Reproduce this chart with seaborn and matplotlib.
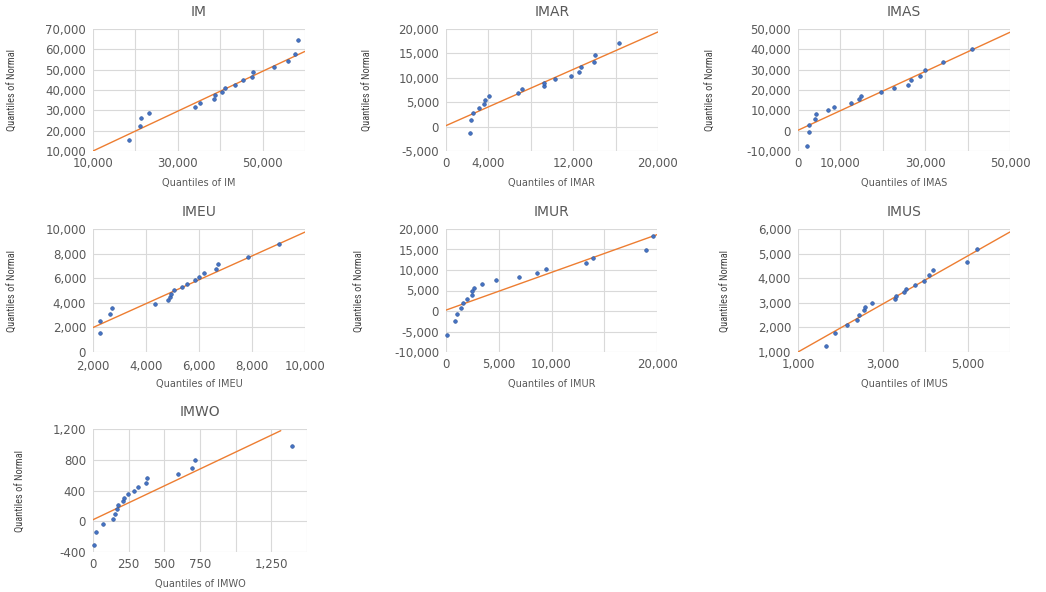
import matplotlib
matplotlib.use("Agg")
import matplotlib.pyplot as plt
import seaborn as sns
import numpy as np
import pandas as pd
from matplotlib import font_manager

# ---------------- data ----------------
im_x = [18500, 21000, 21300, 23300, 34100, 35300, 38600, 38800, 40400, 41200,
        43600, 45400, 47500, 47800, 52800, 55900, 57700, 58400]
im_y = [15400, 22200, 26100, 28900, 31400, 33500, 35500, 37300, 39100, 40900,
        42700, 44700, 46500, 48700, 51100, 54100, 57900, 64800]
im_line_x = [10000, 60000]
im_line_y = [10000, 59000]

imar_x = [2260, 2320, 2570, 3080, 3580, 3640, 4020, 6810, 7160, 9200, 9260,
          10330, 11800, 12500, 12690, 13970, 14100, 16300]
imar_y = [-1230, 1300, 2740, 3840, 4730, 5550, 6230, 6920, 7670, 8360, 8970,
          9730, 10400, 11230, 12120, 13220, 14660, 17190]
imar_line_x = [0, 20000]
imar_line_y = [200, 19400]

imas_x = [2130, 2520, 2520, 4020, 4170, 7170, 8500, 12600, 14490, 14960, 19530,
          22600, 25830, 26540, 28740, 29840, 34090, 41100]
imas_y = [-7370, -790, 2820, 5620, 8080, 10060, 11860, 13670, 15480, 17120, 18930,
          20740, 22550, 24690, 26990, 29780, 33560, 40140]
imas_line_x = [0, 50000]
imas_line_y = [200, 48400]

imeu_x = [2270, 2270, 2660, 2730, 4330, 4840, 4910, 4950, 5050, 5360, 5540,
          5860, 6000, 6170, 6640, 6730, 7850, 9030]
imeu_y = [1580, 2560, 3130, 3540, 3900, 4220, 4500, 4740, 5040, 5290, 5530,
          5830, 6100, 6430, 6760, 7190, 7740, 8770]
imeu_line_x = [2000, 10000]
imeu_line_y = [1990, 9750]

imur_x = [60, 850, 1040, 1460, 1650, 2030, 2440, 2500, 2630, 3390, 4750,
          6960, 8610, 9490, 13260, 13950, 18950, 19590]
imur_y = [-5910, -2560, -680, 710, 1860, 2920, 3900, 4800, 5700, 6600, 7500,
          8400, 9380, 10360, 11590, 12980, 14860, 18210]
imur_line_x = [0, 20000]
imur_line_y = [220, 18620]

imus_x = [1650, 1870, 2160, 2380, 2450, 2550, 2580, 2740, 3280, 3320, 3500,
          3540, 3760, 3970, 4080, 4190, 4980, 5230]
imus_y = [1230, 1790, 2090, 2320, 2510, 2690, 2840, 3000, 3140, 3290, 3430,
          3560, 3720, 3900, 4110, 4320, 4640, 5200]
imus_line_x = [1000, 6000]
imus_line_y = [1000, 5880]

imwo_x = [7, 24, 71, 142, 156, 165, 175, 208, 217, 245, 288, 316, 370, 377,
          597, 693, 712, 1392]
imwo_y = [-310, -139, -39, 35, 100, 157, 209, 257, 304, 352, 400, 448, 496, 557,
          617, 696, 796, 974]
imwo_line_x = [0, 1316]
imwo_line_y = [20, 1178]

names = ["IM", "IMAR", "IMAS", "IMEU", "IMUR", "IMUS", "IMWO"]

# axis ticks and whether each tick shows its label
im_xticks = [10000, 20000, 30000, 40000, 50000, 60000]
im_xshow = [1, 0, 1, 0, 1, 0]
im_yticks = [10000, 20000, 30000, 40000, 50000, 60000, 70000]

imar_xticks = [0, 4000, 8000, 12000, 16000, 20000]
imar_xshow = [1, 1, 0, 1, 0, 1]
imar_yticks = [-5000, 0, 5000, 10000, 15000, 20000]

imas_xticks = [0, 10000, 20000, 30000, 40000, 50000]
imas_xshow = [1, 1, 0, 1, 0, 1]
imas_yticks = [-10000, 0, 10000, 20000, 30000, 40000, 50000]

imeu_xticks = [2000, 4000, 6000, 8000, 10000]
imeu_xshow = [1, 1, 1, 1, 1]
imeu_yticks = [0, 2000, 4000, 6000, 8000, 10000]

imur_xticks = [0, 5000, 10000, 15000, 20000]
imur_xshow = [1, 1, 1, 0, 1]
imur_yticks = [-10000, -5000, 0, 5000, 10000, 15000, 20000]

imus_xticks = [1000, 2000, 3000, 4000, 5000, 6000]
imus_xshow = [1, 0, 1, 0, 1, 0]
imus_yticks = [1000, 2000, 3000, 4000, 5000, 6000]

imwo_xticks = [0, 250, 500, 750, 1000, 1250, 1500]
imwo_xshow = [1, 1, 1, 1, 0, 1, 0]
imwo_yticks = [-400, 0, 400, 800, 1200]

# ---------------- style ----------------
sns.set_theme(style="white")
plt.rcParams["font.family"] = ["DejaVu Sans"]

avail = {f.name for f in font_manager.fontManager.ttflist}
narrow = None
for cand in ["Liberation Sans Narrow", "Arial Narrow", "DejaVu Sans Condensed",
             "Roboto Condensed", "Open Sans Condensed"]:
    if cand in avail:
        narrow = cand
        break

BLUE = "#4472C4"
ORANGE = "#ED7D31"
GRID = "#D9D9D9"
TXT = "#595959"

W, H = 1046, 592
fig = plt.figure(figsize=(W / 100, H / 100), dpi=100)

# layout: left px, top px, width px, height px, ylabel x offset (axes frac), x tick pad
layout = {
    "IM":   (93, 29, 212, 122, -0.38, 4),
    "IMAR": (446, 29, 212, 122, -0.37, 4),
    "IMAS": (798, 29, 212, 122, -0.41, 4),
    "IMEU": (93, 229, 212, 123, -0.38, 6),
    "IMUR": (446, 229, 211, 123, -0.41, 4),
    "IMUS": (798, 229, 212, 123, -0.34, 4),
    "IMWO": (93, 429, 214, 123, -0.34, 4),
}

panels = {
    "IM":   (im_x, im_y, im_line_x, im_line_y, im_xticks, im_xshow, im_yticks),
    "IMAR": (imar_x, imar_y, imar_line_x, imar_line_y, imar_xticks, imar_xshow, imar_yticks),
    "IMAS": (imas_x, imas_y, imas_line_x, imas_line_y, imas_xticks, imas_xshow, imas_yticks),
    "IMEU": (imeu_x, imeu_y, imeu_line_x, imeu_line_y, imeu_xticks, imeu_xshow, imeu_yticks),
    "IMUR": (imur_x, imur_y, imur_line_x, imur_line_y, imur_xticks, imur_xshow, imur_yticks),
    "IMUS": (imus_x, imus_y, imus_line_x, imus_line_y, imus_xticks, imus_xshow, imus_yticks),
    "IMWO": (imwo_x, imwo_y, imwo_line_x, imwo_line_y, imwo_xticks, imwo_xshow, imwo_yticks),
}

for name in names:
    xs, ys, lx, ly, xt, xshow, yt = panels[name]
    left, top, w, h, ylx, xpad = layout[name]
    ax = fig.add_axes([left / W, 1 - (top + h) / H, w / W, h / H])

    ax.set_xlim(xt[0], xt[-1])
    ax.set_ylim(yt[0], yt[-1])
    ax.set_xticks(xt)
    ax.set_xticklabels([f"{v:,}" if s else "" for v, s in zip(xt, xshow)])
    ax.set_yticks(yt)
    ax.set_yticklabels([f"{v:,}" for v in yt])
    ax.grid(True, color=GRID, linewidth=0.8)
    ax.set_axisbelow(True)
    for sp in ax.spines.values():
        sp.set_visible(False)
    ax.tick_params(axis="both", length=0, labelsize=8.5, labelcolor=TXT)
    ax.tick_params(axis="y", pad=5)
    ax.tick_params(axis="x", pad=xpad)

    line_df = pd.DataFrame({"x": lx, "y": ly})
    sns.lineplot(data=line_df, x="x", y="y", ax=ax, color=ORANGE, linewidth=1.0,
                 zorder=2)
    pts = pd.DataFrame({"x": xs, "y": ys})
    sns.scatterplot(data=pts, x="x", y="y", ax=ax, color=BLUE, s=7,
                    edgecolor="#2F5597", linewidth=0.4, zorder=3, clip_on=False)

    ax.set_title(name, fontsize=10, color=TXT, pad=9)
    ax.set_xlabel(f"Quantiles of {name}", fontsize=7, color=TXT)
    ax.xaxis.set_label_coords(0.5, -0.26)
    ax.xaxis.label.set_va("center")
    if narrow:
        ax.set_ylabel("Quantiles of Normal", fontsize=7.5, color="#404040",
                      family=narrow)
    else:
        ax.set_ylabel("Quantiles of Normal", fontsize=6, color="#404040",
                      fontstretch="condensed")
    ax.yaxis.set_label_coords(ylx, 0.5)
    ax.yaxis.label.set_va("center")

fig.savefig("out.png", dpi=100)
